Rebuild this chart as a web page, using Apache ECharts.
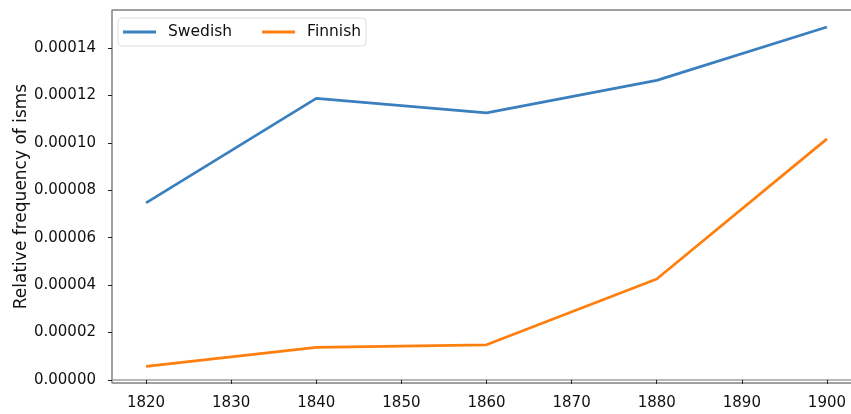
<!DOCTYPE html>
<html>
<head>
<meta charset="utf-8">
<script src="https://cdn.jsdelivr.net/npm/echarts@6/dist/echarts.min.js"></script>
<style>
html, body { margin: 0; padding: 0; background: #fff; }
#chart { width: 851px; height: 414px; }
</style>
</head>
<body>
<div id="chart"></div>
<script>
// data
const years = [1820, 1840, 1860, 1880, 1900];
const swedish = [0.0000747, 0.0001188, 0.0001127, 0.0001264, 0.0001489];
const finnish = [0.0000057, 0.0000137, 0.0000148, 0.0000426, 0.0001017];
const xTicks = [1820, 1830, 1840, 1850, 1860, 1870, 1880, 1890, 1900];
const yTicks = [0, 0.00002, 0.00004, 0.00006, 0.00008, 0.0001, 0.00012, 0.00014];

const font = 'DejaVu Sans';
const pairs = (ys) => years.map((x, i) => [x, ys[i]]);

const chart = echarts.init(document.getElementById('chart'));
chart.setOption({
  animation: false,
  textStyle: { fontFamily: font },
  grid: {
    left: 112, top: 10, bottom: 31, right: -10,
    outerBoundsMode: 'none', containLabel: false,
    show: true, borderColor: '#404040', borderWidth: 1
  },
  legend: {
    left: 118, top: 18,
    padding: [6, 5, 6, 5],
    icon: 'rect',
    itemWidth: 33, itemHeight: 3, itemGap: 30,
    borderColor: '#dcdcdc', borderWidth: 1, borderRadius: 4,
    backgroundColor: '#fff',
    textStyle: { fontFamily: font, fontSize: 15.5, color: '#111', padding: [0, 0, 0, 7] },
    data: ['Swedish', 'Finnish']
  },
  xAxis: {
    type: 'value',
    min: 1816, max: 1904,
    axisLine: { show: true, lineStyle: { color: '#a0a0a0', width: 1.5 } },
    axisTick: { show: true, length: 4, customValues: xTicks, lineStyle: { color: '#222' } },
    axisLabel: {
      customValues: xTicks, margin: 13,
      fontFamily: font, fontSize: 15, color: '#111',
      formatter: (v) => String(v)
    },
    splitLine: { show: false }
  },
  yAxis: {
    type: 'value',
    min: -0.0000013, max: 0.0001561,
    name: 'Relative frequency of isms',
    nameLocation: 'middle', nameGap: 82, nameMoveOverlap: false,
    nameTextStyle: { fontFamily: font, fontSize: 17, color: '#111' },
    axisLine: { show: true, lineStyle: { color: '#a0a0a0', width: 1.5 } },
    axisTick: { show: true, length: 4, customValues: yTicks, lineStyle: { color: '#222' } },
    axisLabel: {
      customValues: yTicks, margin: 16,
      fontFamily: font, fontSize: 15, color: '#111',
      formatter: (v) => v.toFixed(5)
    },
    splitLine: { show: false }
  },
  series: [
    {
      name: 'Swedish', type: 'line', data: pairs(swedish),
      symbol: 'none', color: '#3a7fbe',
      lineStyle: { width: 2.7, color: '#3a7fbe' }
    },
    {
      name: 'Finnish', type: 'line', data: pairs(finnish),
      symbol: 'none', color: '#ff7f0e',
      lineStyle: { width: 2.7, color: '#ff7f0e' }
    }
  ]
});
</script>
</body>
</html>
